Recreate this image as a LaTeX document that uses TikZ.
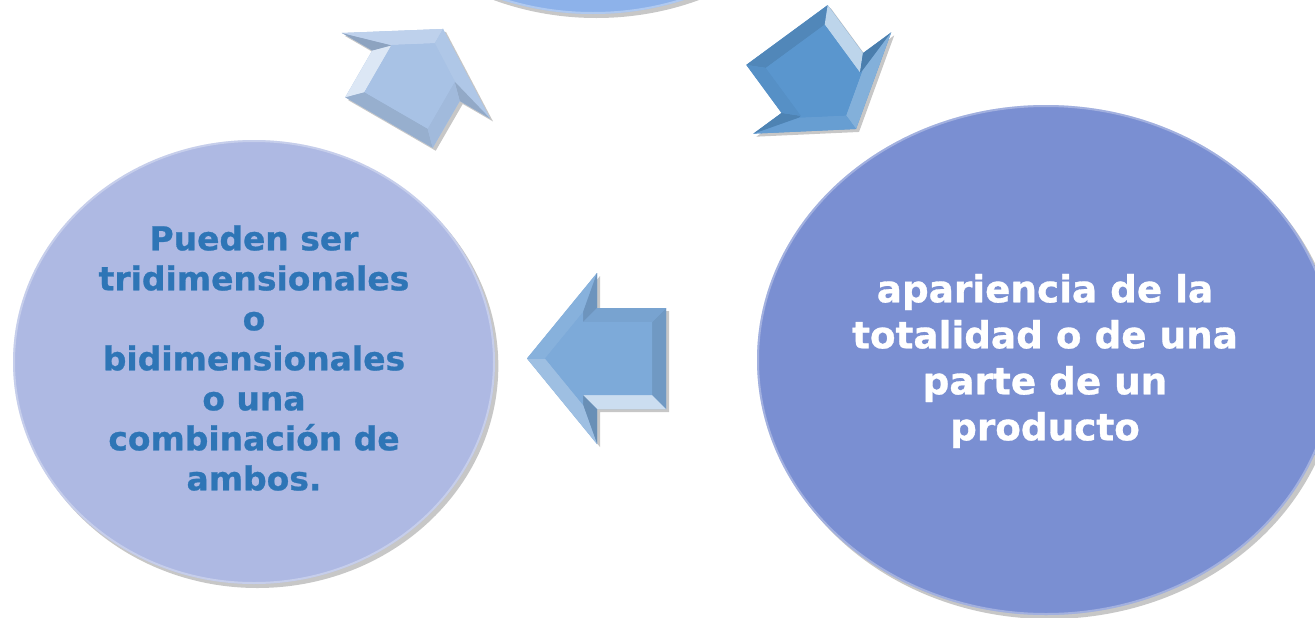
\documentclass[tikz,border=0pt]{standalone}
\usepackage{fontspec}
\setmainfont{DejaVu Sans}[BoldFeatures={FakeBold=0.8}]
\usetikzlibrary{calc,shapes.geometric,shadows}
\definecolor{lcirc}{HTML}{AEB9E3}
\definecolor{rcirc}{HTML}{7A8FD2}
\definecolor{tcirc}{HTML}{8DB2EA}
\definecolor{ltext}{HTML}{2E75B6}
\definecolor{arrA}{HTML}{A8C2E5}
\definecolor{arrB}{HTML}{5A96CE}
\definecolor{arrC}{HTML}{7DAAD9}
\tikzset{
  bubble/.style={ellipse, inner sep=0pt,
    drop shadow={shadow xshift=2.5pt, shadow yshift=-3pt, opacity=.22, fill=black}},
  arrshadow/.style={fill=black, opacity=.22},
  lefttext/.style={font=\bfseries\fontsize{24.7}{30}\selectfont, text=ltext, align=center},
  righttext/.style={font=\bfseries\fontsize{28}{34.5}\selectfont, text=white, align=center}
}
% light rim inside an ellipse node: #1 node, #2 x radius, #3 y radius
\newcommand\bubblerim[3]{%
  \begin{scope}
    \clip (#1.center) ellipse [x radius=#2, y radius=#3];
    \draw[white, opacity=.3, line width=3pt] (#1.center) ellipse [x radius=#2, y radius=#3];
  \end{scope}
}
% #1 back-centre coordinate, #2 rotation, #3 length, #4 head length, #5 base colour
\newcommand\bevarrow[5]{%
  \begin{scope}[shift={#1},rotate=#2]
    \pgfmathsetmacro\aL{#3}\pgfmathsetmacro\aH{#4}\def\bd{14}%
    \pgfmathsetmacro\aM{sqrt(\aH*\aH+85.5*85.5)}%
    \pgfmathsetmacro\nx{\aL-\aH}%
    \pgfmathsetmacro\ix{\aL-\aH+\bd}%
    \pgfmathsetmacro\wy{85.5-\bd*\aH/\aM-(\bd+\bd*85.5/\aM)/\aH*85.5}%
    \pgfmathsetmacro\tx{\aL-\bd*\aM/85.5}%
    \pgfmathsetmacro\sy{50.5-\bd}%
    \coordinate (p1) at (0,-50.5);
    \coordinate (p2) at (\nx,-50.5);
    \coordinate (p3) at (\nx,-85.5);
    \coordinate (p4) at (\aL,0);
    \coordinate (p5) at (\nx,85.5);
    \coordinate (p6) at (\nx,50.5);
    \coordinate (p7) at (0,50.5);
    \coordinate (q1) at (\bd,-\sy);
    \coordinate (q2) at (\ix,-\sy);
    \coordinate (q3) at (\ix,-\wy);
    \coordinate (q4) at (\tx,0);
    \coordinate (q5) at (\ix,\wy);
    \coordinate (q6) at (\ix,\sy);
    \coordinate (q7) at (\bd,\sy);
  \end{scope}
  \fill[arrshadow] ($(p1)+(3,3)$) -- ($(p2)+(3,3)$) -- ($(p3)+(3,3)$) -- ($(p4)+(3,3)$)
     -- ($(p5)+(3,3)$) -- ($(p6)+(3,3)$) -- ($(p7)+(3,3)$) -- cycle;
  \fill[#5] (p1)--(p2)--(p3)--(p4)--(p5)--(p6)--(p7)--cycle;
  \fill[#5!90!black] (p7)--(p1)--(q1)--(q7)--cycle;
  \fill[#5!40!white] (p1)--(p2)--(q2)--(q1)--cycle;
  \fill[#5!84!black] (p2)--(p3)--(q3)--(q2)--cycle;
  \fill[#5!75!white] (p3)--(p4)--(q4)--(q3)--cycle;
  \fill[#5!92!white] (p4)--(p5)--(q5)--(q4)--cycle;
  \fill[#5!87!black] (p5)--(p6)--(q6)--(q5)--cycle;
  \fill[#5!96!black] (p6)--(p7)--(q7)--(q6)--cycle;
  \fill[#5] (q1)--(q2)--(q3)--(q4)--(q5)--(q6)--(q7)--cycle;
}
\begin{document}
\begin{tikzpicture}[x=0.75pt,y=-0.75pt]
\clip (0,0) rectangle (1315,618);
\fill[white] (0,0) rectangle (1315,618);
% circles
\node[bubble, fill=tcirc, minimum width=405pt, minimum height=360pt] (top) at (593,-226) {};
\node[bubble, fill=lcirc, minimum width=361.5pt, minimum height=333pt] (left) at (254,362) {};
\node[bubble, fill=rcirc, minimum width=433.5pt, minimum height=382.5pt] (right) at (1046,360) {};
\bubblerim{top}{202.5pt}{180pt}
\bubblerim{left}{180.75pt}{166.5pt}
\bubblerim{right}{216.75pt}{191.25pt}
% arrows
\bevarrow{(389,122.5)}{60}{108}{54}{arrA}
\bevarrow{(787,35)}{-53.7}{116.6}{57}{arrB}
\bevarrow{(666,358.5)}{180}{139}{70}{arrC}
% texts
\node[lefttext] (lt) at (254,358) {Pueden ser\\tridimensionales\\o\\bidimensionales\\o una\\combinación de\\ambos.};
\node[righttext] (rt) at (1045,361) {apariencia de la\\totalidad o de una\\parte de un\\producto};
\end{tikzpicture}
\end{document}
